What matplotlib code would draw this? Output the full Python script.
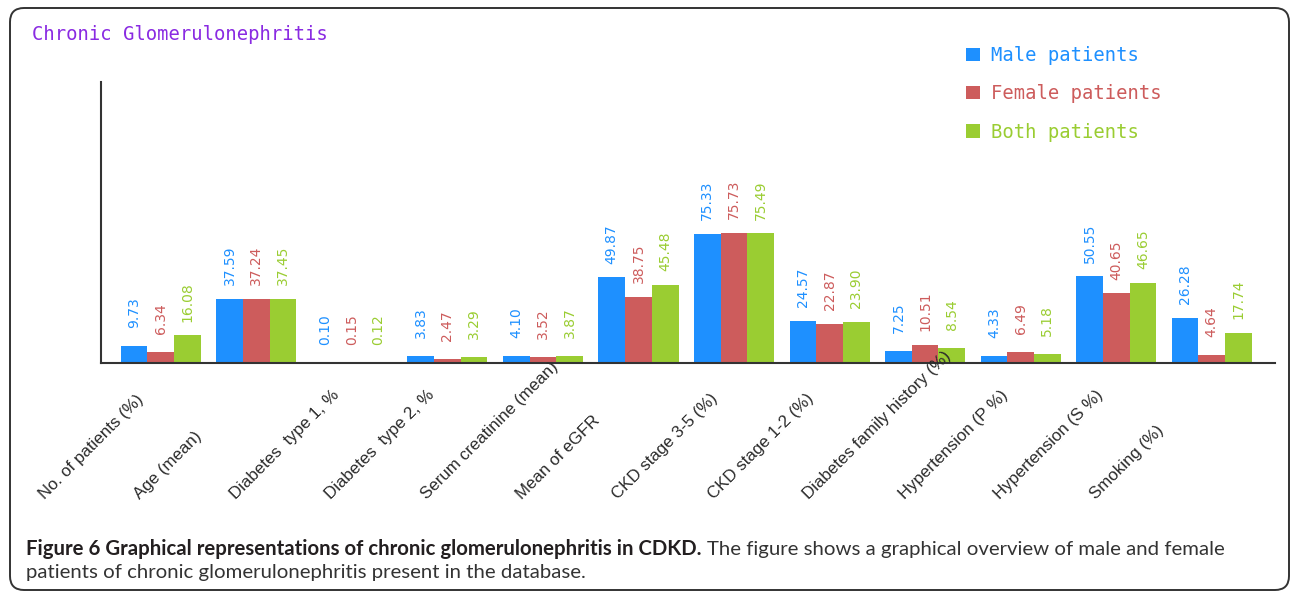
import matplotlib
matplotlib.use('Agg')
import matplotlib.pyplot as plt
from matplotlib.patches import FancyBboxPatch
from matplotlib.transforms import ScaledTranslation, IdentityTransform, blended_transform_factory
import numpy as np

# ---------------- data ----------------
categories = ["No. of patients (%)", "Age (mean)", "Diabetes  type 1, %",
              "Diabetes  type 2, %", "Serum creatinine (mean)", "Mean of eGFR",
              "CKD stage 3-5 (%)", "CKD stage 1-2 (%)", "Diabetes family history (%)",
              "Hypertension (P %)", "Hypertension (S %)", "Smoking (%)"]
male = [9.73, 37.59, 0.10, 3.83, 4.10, 49.87, 75.33, 24.57, 7.25, 4.33, 50.55, 26.28]
female = [6.34, 37.24, 0.15, 2.47, 3.52, 38.75, 75.73, 22.87, 10.51, 6.49, 40.65, 4.64]
both = [16.08, 37.45, 0.12, 3.29, 3.87, 45.48, 75.49, 23.90, 8.54, 5.18, 46.65, 17.74]
series_names = ["Male patients", "Female patients", "Both patients"]
colors = ["#1E90FF", "#CD5C5C", "#9ACD32"]

title = "Chronic Glomerulonephritis"
cap_bold = "Figure 6 Graphical representations of chronic glomerulonephritis in CDKD."
cap_norm = "The figure shows a graphical overview of male and female"
cap_line2 = "patients of chronic glomerulonephritis present in the database."

W, H = 1292, 593
DPI = 100
fig = plt.figure(figsize=(W / DPI, H / DPI), dpi=DPI)
fig.patch.set_facecolor('white')

# frame with rounded corners (pixel coords)
frame = FancyBboxPatch((10, H - 590), 1279, 582,
                       boxstyle="round,pad=0,rounding_size=14",
                       transform=IdentityTransform(), facecolor='none',
                       edgecolor='#333333', linewidth=1.4, zorder=0)
fig.patches.append(frame)

# axes
ax_l, ax_r, ax_b, ax_t = 101, 1275, 363, 82
ax = fig.add_axes([ax_l / W, 1 - ax_b / H, (ax_r - ax_l) / W, (ax_b - ax_t) / H])
ax.set_facecolor('none')

x = np.arange(len(categories))
bw = 0.2794
for k, (vals, col) in enumerate(zip([male, female, both], colors)):
    pos = x + (k - 1) * bw
    ax.bar(pos, vals, width=bw, color=col, label=series_names[k], zorder=2)
    for px_, v in zip(pos, vals):
        ax.annotate(f"{v:.2f}", xy=(px_, v), xytext=(0, 24), textcoords='offset points',
                    rotation=90, ha='center', va='center', fontsize=10,
                    family='DejaVu Sans', color=col)

ax.set_xlim(-0.625, 11.662)
ax.set_ylim(0, 163.8)
for s in ['top', 'right']:
    ax.spines[s].set_visible(False)
for s in ['left', 'bottom']:
    ax.spines[s].set_color('#333333')
    ax.spines[s].set_linewidth(1.5)
ax.set_xticks([])
ax.set_yticks([])

# rotated category labels
trans = blended_transform_factory(ax.transData, ax.transAxes)
off = ScaledTranslation(-116 / DPI, -137 / DPI, fig.dpi_scale_trans)
for xi, lab in zip(x, categories):
    ax.text(xi, 0, lab, transform=trans + off, rotation=45, rotation_mode='anchor',
            ha='left', va='baseline', fontsize=12.2, family='Liberation Sans',
            color='#2a2a2a', clip_on=False)

# title
fig.text(32 / W, 1 - 35 / H, title, family='DejaVu Sans Mono', fontsize=13.6,
         color='#8A2BE2', ha='left', va='center')

# legend
leg = ax.legend(loc='upper left', bbox_to_anchor=(966 / W, 1 - 46 / H),
                bbox_transform=fig.transFigure, frameon=False,
                prop={'family': 'DejaVu Sans Mono', 'size': 13.6},
                handlelength=0.72, handleheight=0.72, handletextpad=0.6,
                labelspacing=1.02, borderpad=0, borderaxespad=0)
for t, c in zip(leg.get_texts(), colors):
    t.set_color(c)

# caption, fitted to width
fig.canvas.draw()
r = fig.canvas.get_renderer()
s0 = 14
cfam = 'Lato'
tb = fig.text(26 / W, 1 - 555 / H, cap_bold, family=cfam, weight='bold',
              fontsize=s0, color='#231f20', ha='left', va='baseline')
tn = fig.text(0, 1 - 555 / H, cap_norm, family=cfam, fontsize=s0,
              color='#333333', ha='left', va='baseline')
wb = tb.get_window_extent(r).width
wn = tn.get_window_extent(r).width
gap = 0.25 * s0 * DPI / 72
scale = (1227 - 26) / (wb + wn + gap)
s1 = s0 * scale
tb.set_fontsize(s1)
tn.set_fontsize(s1)
wb = tb.get_window_extent(r).width
tn.set_x((26 + wb + 0.25 * s1 * DPI / 72) / W)
fig.text(26 / W, 1 - 578 / H, cap_line2, family=cfam, fontsize=s1,
         color='#333333', ha='left', va='baseline')

fig.savefig('out.png', dpi=DPI)
